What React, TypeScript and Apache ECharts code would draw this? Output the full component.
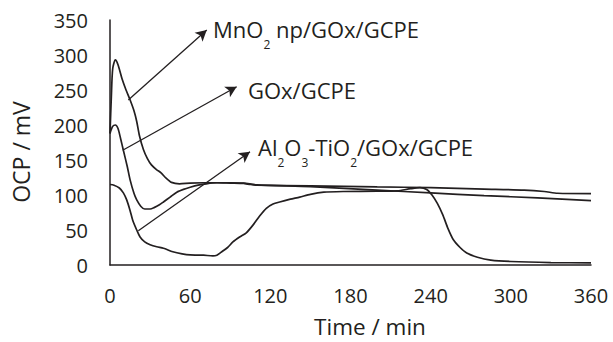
import React, { useEffect, useRef } from "react";
import * as echarts from "echarts";

const INK = "#231f20";
const FONT = "'Open Sans', sans-serif";

const xTicks = [0, 60, 120, 180, 240, 300, 360];
const yTicks = [0, 50, 100, 150, 200, 250, 300, 350];

// MnO2 np/GOx/GCPE  [time(min), OCP(mV)]
const mno2Series: number[][] = [
  [0, 188], [1, 240], [2, 280], [4, 293], [6, 286], [9, 266], [12, 250], [15, 236],
  [18, 220], [20, 205], [22, 185], [25, 165], [28, 152], [31, 143], [35, 136], [38, 132],
  [42, 124], [46, 118], [52, 116], [60, 117], [70, 117.5], [80, 117.5], [90, 117],
  [100, 116.5], [105, 115], [110, 114], [150, 113], [200, 111.5], [240, 110.5],
  [280, 108.5], [310, 107], [325, 105], [335, 102.5], [360, 102],
];

// GOx/GCPE
const goxSeries: number[][] = [
  [0, 188], [2, 198], [4, 200], [6, 195], [8, 180], [10, 164], [13, 140], [15, 122],
  [18, 102], [20, 93], [23, 84], [26, 80], [30, 80], [33, 82], [37, 86], [40, 90],
  [45, 97], [50, 104], [55, 108], [60, 111], [66, 114], [72, 116], [80, 117.5],
  [90, 117.5], [100, 117], [110, 114.5], [150, 112], [200, 107], [240, 103],
  [280, 99], [320, 96], [360, 92],
];

// Al2O3-TiO2/GOx/GCPE
const alSeries: number[][] = [
  [0, 115], [3, 114], [7, 110], [10, 103], [12.5, 93], [15, 78], [17, 64], [20, 50],
  [22.5, 40], [26, 33], [30, 29], [35, 26], [40, 24], [47, 19], [54, 16], [60, 14.5],
  [70, 14], [77, 13], [80, 14], [83, 18], [88, 25], [92, 33], [97, 40], [102, 46],
  [107, 57], [112, 70], [117, 81], [122, 87], [127, 90], [135, 94], [142, 97],
  [150, 101], [160, 104], [175, 105], [200, 105.5], [215, 106], [225, 109],
  [232, 110.5], [237, 108], [241, 100], [245, 88], [249, 72], [253, 52], [257, 36],
  [262, 25], [267, 17], [275, 11], [285, 7], [300, 5], [330, 3.5], [360, 3],
];

// annotation arrows: [fromTime, fromOCP, toTime, toOCP]
const arrows: number[][] = [
  [13.7, 235.7, 72.4, 335.7],
  [9.5, 164, 94.8, 254.7],
  [21.2, 49, 104.8, 161.9],
];

const labelRich = {
  sub: { fontSize: 12, fontFamily: FONT, fill: INK, padding: [30, 0, 0, 0] },
};

export default function App() {
  const ref = useRef<HTMLDivElement>(null);
  useEffect(() => {
    if (!ref.current) return;
    const chart = echarts.init(ref.current, null, { renderer: "svg" });
    const lineStyle = { color: INK, width: 1.7 };
    const mkSeries = (name: string, data: number[][], extra: any = {}) => ({
      name,
      type: "line",
      data,
      showSymbol: false,
      smooth: 0.25,
      lineStyle,
      itemStyle: { color: INK },
      ...extra,
    });
    chart.setOption({
      animation: false,
      backgroundColor: "#ffffff",
      grid: { left: 110, right: 22, top: 20, bottom: 77 },
      xAxis: {
        type: "value",
        min: xTicks[0],
        max: xTicks[xTicks.length - 1],
        interval: 60,
        axisLine: { lineStyle: { color: INK, width: 1.5 } },
        axisTick: { show: false },
        splitLine: { show: false },
        axisLabel: { color: INK, fontSize: 20, fontFamily: FONT, margin: 20 },
      },
      yAxis: {
        type: "value",
        min: yTicks[0],
        max: yTicks[yTicks.length - 1],
        interval: 50,
        axisLine: { show: true, lineStyle: { color: INK, width: 1.5 } },
        axisTick: { show: false },
        splitLine: { show: false },
        axisLabel: { color: INK, fontSize: 20, fontFamily: FONT, margin: 22 },
      },
      series: [
        mkSeries("MnO2 np/GOx/GCPE", mno2Series, {
          markLine: {
            silent: true,
            symbol: ["none", "arrow"],
            symbolSize: [9, 11],
            lineStyle: { color: INK, width: 1.3, type: "solid" },
            label: { show: false },
            data: arrows.map((a) => [{ coord: [a[0], a[1]] }, { coord: [a[2], a[3]] }]),
          },
        }),
        mkSeries("GOx/GCPE", goxSeries),
        mkSeries("Al2O3-TiO2/GOx/GCPE", alSeries),
      ],
      graphic: [
        {
          type: "text", x: 213, y: 29,
          style: {
            text: "MnO{sub|2} np/GOx/GCPE", fill: INK, fontSize: 22, fontFamily: FONT,
            verticalAlign: "middle", rich: labelRich,
          },
        },
        {
          type: "text", x: 248, y: 90,
          style: { text: "GOx/GCPE", fill: INK, fontSize: 22, fontFamily: FONT, verticalAlign: "middle" },
        },
        {
          type: "text", x: 258, y: 147,
          style: {
            text: "Al{sub|2}O{sub|3}-TiO{sub|2}/GOx/GCPE", fill: INK, fontSize: 22, fontFamily: FONT,
            verticalAlign: "middle", rich: labelRich,
          },
        },
        {
          type: "text", x: 370, y: 326,
          style: {
            text: "Time / min", fill: INK, fontSize: 22.5, fontFamily: FONT,
            align: "center", verticalAlign: "middle",
          },
        },
        {
          type: "text", x: 21, y: 152, rotation: Math.PI / 2,
          style: { text: "OCP / mV", fill: INK, fontSize: 23, fontFamily: FONT, align: "center", verticalAlign: "middle" },
        },
      ],
    });
    return () => chart.dispose();
  }, []);
  return <div ref={ref} style={{ position: "absolute", left: 0, top: 0, width: 613, height: 342 }} />;
}
